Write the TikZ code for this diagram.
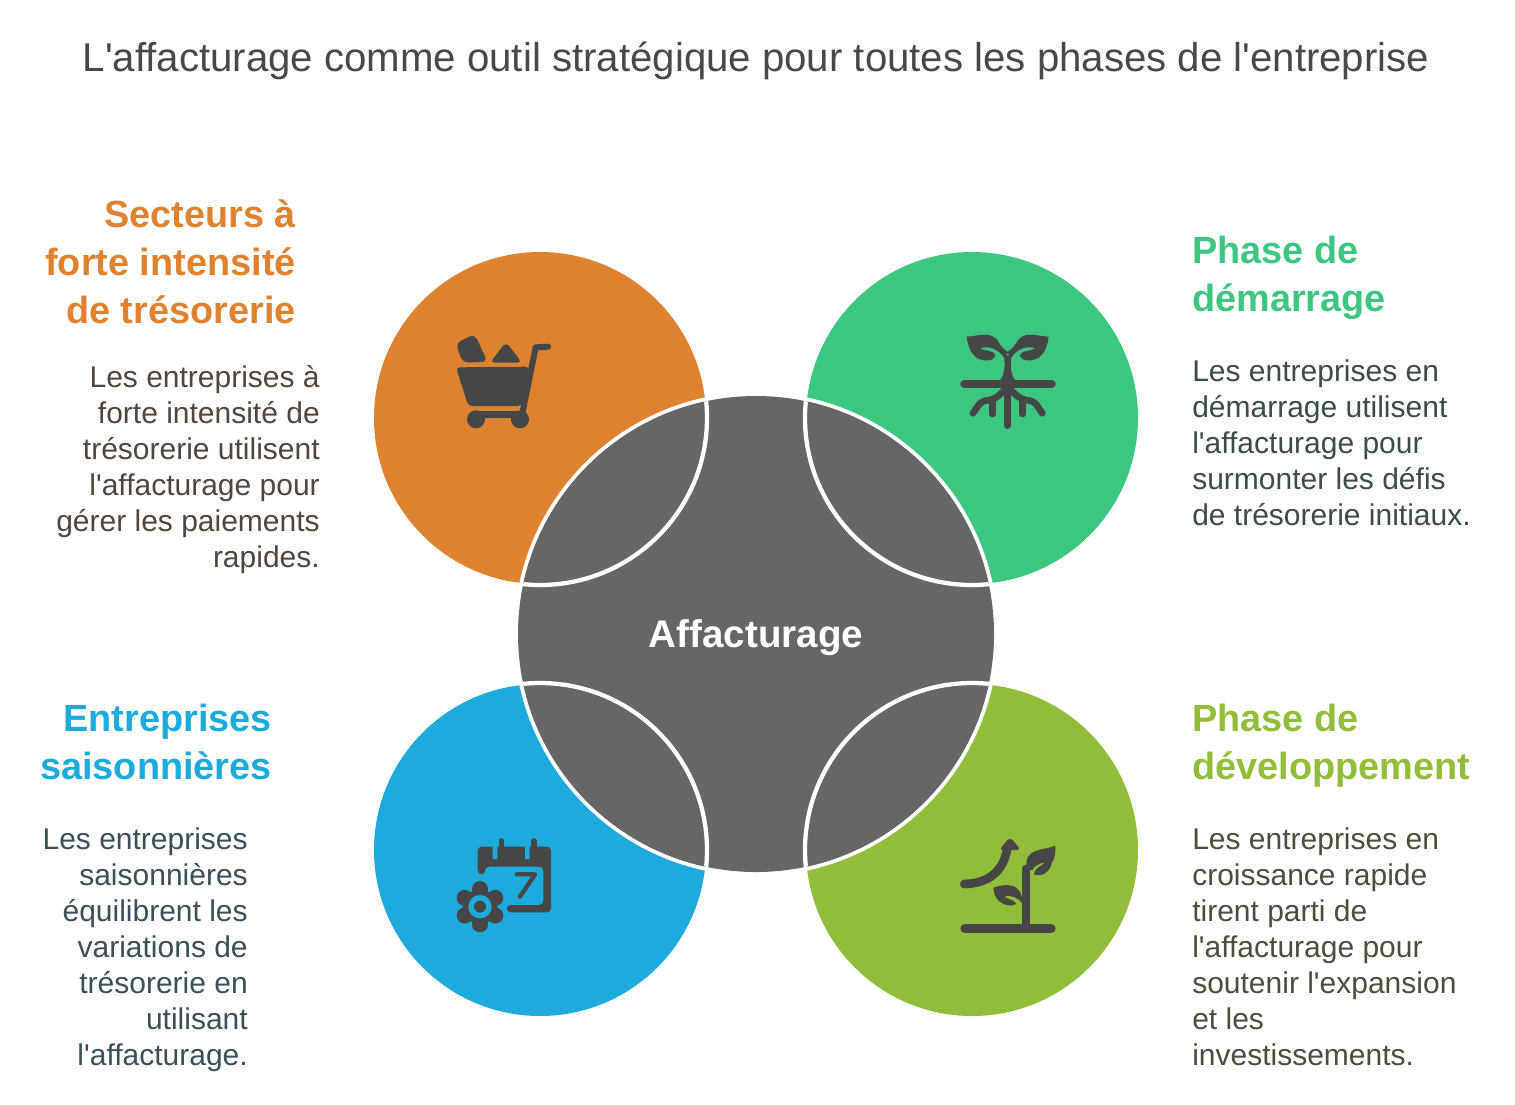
\documentclass[tikz,border=0pt]{standalone}
\usepackage{fontspec}
\setmainfont{Liberation Sans}
\usepackage{xcolor}
\definecolor{cartorange}{RGB}{222,130,48}
\definecolor{sproutgreen}{RGB}{61,198,130}
\definecolor{calblue}{RGB}{30,171,219}
\definecolor{growgreen}{RGB}{146,188,57}
\definecolor{hubgray}{RGB}{102,102,102}
\definecolor{icongray}{RGB}{70,70,70}
\definecolor{titlegray}{RGB}{72,72,72}
\definecolor{carttext}{RGB}{82,70,60}
\definecolor{sprouttext}{RGB}{60,76,70}
\definecolor{caltext}{RGB}{60,78,88}
\definecolor{growtext}{RGB}{74,78,60}
\newcommand{\ap}{\textquotesingle{}}
\tikzset{
	petal/.style={circle,inner sep=0pt,minimum size=332*0.75pt},
	headline/.style={inner sep=0pt,font=\fontsize{28.4pt}{36pt}\selectfont\bfseries},
	blurb/.style={inner sep=0pt,font=\fontsize{22.5pt}{27pt}\selectfont},
	icon/.style={icongray,line cap=round,line join=round},
	iconbox/.style={x=0.25pt,y=-0.25pt},
}

\begin{document}
\begin{tikzpicture}[x=0.75pt,y=-0.75pt]
	\useasboundingbox (0,0) rectangle (1515,1104);

	\node(cart) at (540,418)[petal,fill=cartorange]{};
	\node(sprout) at (972,418)[petal,fill=sproutgreen]{};
	\node(calendar) at (540,850)[petal,fill=calblue]{};
	\node(growth) at (972,850)[petal,fill=growgreen]{};

	\fill[white] (756,634) circle (242);
	\fill[hubgray] (756,634) circle (238);
	\begin{scope}
		\clip (756,634) circle (238);
		\foreach \cx/\cy in {540/418,972/418,540/850,972/850}
			\draw[white,fill=hubgray,line width=3.2pt] (\cx,\cy) circle (167);
	\end{scope}
	\node(hub) at (756,638)[text=white,font=\fontsize{28.9pt}{34pt}\selectfont\bfseries,inner sep=0pt]{Affacturage};

	\node(title) at (756,61)[text=titlegray,inner sep=0pt,font=\fontsize{30.15pt}{36pt}\selectfont]{L\ap affacturage comme outil stratégique pour toutes les phases de l\ap entreprise};

	\node(cartHead) at (296,262)[headline,text=cartorange,anchor=east,align=right]{Secteurs à\\forte intensité\\de trésorerie};
	\node(cartText) at (320,470)[blurb,text=carttext,anchor=east,align=right]{Les entreprises à\\forte intensité de\\trésorerie utilisent\\l\ap affacturage pour\\gérer les paiements\\rapides.};
	\node(sproutHead) at (1192,278)[headline,text=sproutgreen,anchor=west,align=left]{Phase de\\démarrage};
	\node(sproutText) at (1192,443)[blurb,text=sprouttext,anchor=west,align=left]{Les entreprises en\\démarrage utilisent\\l\ap affacturage pour\\surmonter les défis\\de trésorerie initiaux.};
	\node(calHead) at (272,742)[headline,text=calblue,anchor=east,align=right]{Entreprises\\saisonnières};
	\node(calText) at (248,950)[blurb,text=caltext,anchor=east,align=right]{Les entreprises\\saisonnières\\équilibrent les\\variations de\\trésorerie en\\utilisant\\l\ap affacturage.};
	\node(growHead) at (1192,746)[headline,text=growgreen,anchor=west,align=left]{Phase de\\développement};
	\node(growText) at (1192,947)[blurb,text=growtext,anchor=west,align=left]{Les entreprises en\\croissance rapide\\tirent parti de\\l\ap affacturage pour\\soutenir l\ap expansion\\et les\\investissements.};

	% cart
	\begin{scope}[shift={(440,320)},iconbox]
		\fill[icongray,rounded corners=3pt] (48,142) -- (268,140) -- (245,258) -- (85,258) -- cycle;
		\fill[icongray,rounded corners=4pt] (47,70) -- (104,42) -- (142,125) -- (68,128) -- cycle;
		\fill[icongray,rounded corners=3.5pt] (150,128) -- (198,66) -- (246,128) -- cycle;
		\draw[icon,line width=4.5pt] (248,275) -- (287,82) -- (324,80);
		\draw[icon,line width=5.5pt,line cap=butt] (108,284) -- (240,284);
		\fill[icongray] (108,298) circle (27) (240,298) circle (27);
	\end{scope}

	% sprout
	\begin{scope}[shift={(945,320)},iconbox]
		\draw[icon,line width=6.2pt] (58,192) -- (320,192);
		\draw[icon,line width=5.5pt] (188,192) -- (188,316);
		\fill[icongray] (176,105) .. controls (182,140) and (178,165) .. (163,185) -- (213,185) .. controls (198,165) and (194,140) .. (200,105) -- cycle;
		\foreach \flip in {1,-1}{
			\begin{scope}[shift={(188,0)},xscale=\flip]
				\draw[icon,line width=5pt] (-8,208) .. controls (-23,225) and (-38,240) .. (-68,242) .. controls (-83,248) .. (-104,280);
				\draw[icon,line width=5pt] (-45,245) -- (-45,282);
				\fill[icongray] (-123,50) .. controls (-85,48) and (-45,30) .. (-25,70) .. controls (-20,80) and (-10,88) .. (2,97) -- (-12,112) .. controls (-25,90) and (-55,75) .. (-83,85) .. controls (-65,95) and (-40,90) .. (-36,108) .. controls (-45,125) and (-75,125) .. (-95,112) .. controls (-112,98) and (-120,75) .. (-123,50) -- cycle;
			\end{scope}
		}
	\end{scope}

	% calendar
	\begin{scope}[shift={(440,825)},iconbox]
		\fill[icongray,rounded corners=3pt] (113,148) -- (113,65) -- (333,65) -- (333,262) -- (200,262) -- (200,240) -- (310,240) -- (310,125) -- (135,125) -- (135,148) -- cycle;
		\fill[calblue] (158,58) rectangle (172,102) (255,58) rectangle (269,102);
		\draw[icon,line width=3.8pt] (185,47) -- (185,95) (282,47) -- (282,95);
		\draw[icon,line width=3.2pt] (230,148) -- (285,148) -- (240,215);
		\foreach \ang in {30,90,...,330}
			\fill[icongray] (120,245)++(\ang:53) circle (24);
		\fill[icongray] (120,245) circle (52);
		\fill[calblue] (120,245) circle (35);
		\fill[icongray] (120,245) circle (18);
	\end{scope}

	% growth
	\begin{scope}[shift={(945,825)},iconbox]
		\draw[icon,line width=7pt] (60,311) -- (318,311);
		\draw[icon,line width=5.5pt] (243,311) -- (243,130);
		\draw[icon,line width=6.5pt] (58,177) .. controls (130,175) and (175,140) .. (187,70);
		\fill[icongray,rounded corners=3pt] (162,75) -- (195,36) -- (228,75) -- cycle;
		\fill[icongray] (331,62) .. controls (300,75) and (255,70) .. (245,105) -- (243,135) -- (262,135) .. controls (270,120) and (285,115) .. (300,112) .. controls (290,125) and (270,125) .. (267,148) .. controls (290,158) and (315,140) .. (320,115) .. controls (330,100) and (332,80) .. (331,62) -- cycle;
		\fill[icongray] (145,188) .. controls (175,178) and (220,170) .. (230,215) -- (232,235) .. controls (222,220) and (200,208) .. (178,215) .. controls (190,225) and (205,222) .. (214,236) .. controls (195,250) and (165,235) .. (155,220) .. controls (148,208) .. (145,188) -- cycle;
	\end{scope}
\end{tikzpicture}
\end{document}
